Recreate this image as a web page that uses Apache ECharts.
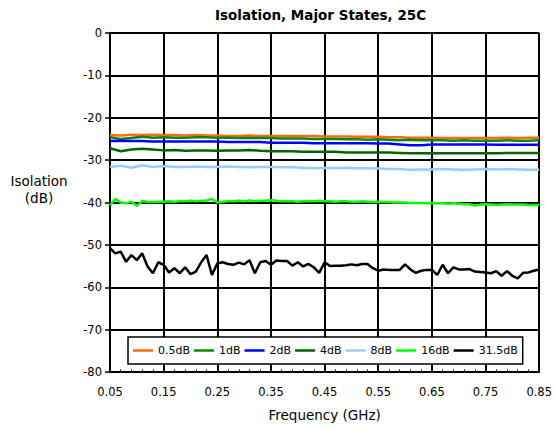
<!DOCTYPE html>
<html><head><meta charset="utf-8">
<script src="https://cdn.jsdelivr.net/npm/echarts@6/dist/echarts.min.js"></script>
<style>html,body{margin:0;padding:0;background:#fff}#c{width:555px;height:433px}</style>
</head><body><div id="c"></div>
<script>
// Frequencies (GHz)
const freqFine = [0.05,0.06,0.07,0.08,0.09,0.10,0.11,0.12,0.13,0.14,0.15,0.16,0.17,0.18,0.19,0.20,0.21,0.22,0.23,0.24,0.25,0.26,0.27,0.28,0.29,0.30,0.31,0.32,0.33,0.34,0.35,0.36,0.37,0.38,0.39,0.40,0.41,0.42,0.43,0.44,0.45,0.46,0.47,0.48,0.49,0.50,0.51,0.52,0.53,0.54,0.55,0.56,0.57,0.58,0.59,0.60,0.61,0.62,0.63,0.64,0.65,0.66,0.67,0.68,0.69,0.70,0.71,0.72,0.73,0.74,0.75,0.76,0.77,0.78,0.79,0.80,0.81,0.82,0.83,0.84,0.85];
const freqCoarse = [0.05,0.07,0.09,0.11,0.13,0.15,0.17,0.19,0.21,0.23,0.25,0.27,0.29,0.31,0.33,0.35,0.37,0.39,0.41,0.43,0.45,0.47,0.49,0.51,0.53,0.55,0.57,0.59,0.61,0.63,0.65,0.67,0.69,0.71,0.73,0.75,0.77,0.79,0.81,0.83,0.85];

// Isolation (dB)
const iso05 = [-24.1,-24.2,-24.0,-24.1,-24.0,-24.1,-24.1,-24.2,-24.1,-24.2,-24.2,-24.3,-24.3,-24.2,-24.3,-24.3,-24.3,-24.3,-24.3,-24.3,-24.4,-24.4,-24.4,-24.5,-24.5,-24.5,-24.6,-24.6,-24.7,-24.7,-24.7,-24.8,-24.8,-24.8,-24.8,-24.8,-24.8,-24.7,-24.8,-24.7,-24.7];
const iso1 = [-24.6,-25.0,-24.8,-24.5,-24.7,-24.6,-24.7,-24.7,-24.6,-24.6,-24.7,-24.7,-24.8,-24.8,-24.8,-24.8,-24.9,-24.9,-24.9,-25.0,-25.0,-25.0,-25.1,-25.1,-25.2,-25.1,-25.2,-25.3,-25.2,-25.3,-25.3,-25.3,-25.4,-25.3,-25.4,-25.4,-25.4,-25.3,-25.4,-25.4,-25.3];
const iso2 = [-25.5,-25.4,-25.5,-25.5,-25.6,-25.6,-25.6,-25.6,-25.6,-25.6,-25.6,-25.7,-25.7,-25.7,-25.7,-25.9,-25.9,-25.9,-25.9,-26.0,-26.0,-26.0,-26.0,-26.0,-26.0,-26.1,-26.1,-26.3,-26.5,-26.5,-26.3,-26.3,-26.3,-26.3,-26.3,-26.3,-26.4,-26.4,-26.4,-26.4,-26.4];
const iso4 = [-27.2,-27.9,-27.5,-27.3,-27.5,-27.7,-27.6,-27.8,-27.7,-27.7,-27.8,-27.7,-27.7,-27.6,-27.8,-27.9,-27.9,-27.9,-28.0,-28.0,-28.0,-28.0,-28.2,-28.2,-28.2,-28.2,-28.2,-28.3,-28.4,-28.4,-28.4,-28.4,-28.4,-28.4,-28.4,-28.4,-28.4,-28.3,-28.3,-28.3,-28.3];
const iso8 = [-31.6,-31.3,-31.8,-31.2,-31.6,-31.4,-31.6,-31.6,-31.5,-31.6,-31.6,-31.5,-31.6,-31.7,-31.6,-31.6,-31.7,-31.7,-31.8,-31.9,-31.8,-31.9,-31.8,-31.9,-31.9,-32.0,-32.1,-32.1,-32.3,-32.2,-32.2,-32.1,-32.2,-32.3,-32.2,-32.1,-32.2,-32.1,-32.2,-32.3,-32.3];
const iso16 = [-40.6,-39.2,-40.0,-40.2,-39.8,-40.8,-39.6,-39.9,-39.9,-39.8,-39.8,-39.7,-39.8,-39.7,-39.7,-39.6,-39.7,-39.6,-39.5,-39.2,-40.0,-39.8,-39.7,-39.7,-39.6,-39.7,-39.5,-39.7,-39.6,-39.6,-39.4,-39.6,-39.7,-39.7,-39.7,-39.8,-39.7,-39.7,-39.7,-39.6,-39.7,-39.7,-39.8,-39.7,-39.7,-39.8,-39.8,-39.7,-39.8,-39.9,-39.8,-39.9,-39.9,-40.0,-40.0,-40.0,-40.1,-40.1,-40.1,-40.2,-40.2,-40.2,-40.2,-40.3,-40.2,-40.3,-40.4,-40.4,-40.7,-40.5,-40.4,-40.5,-40.6,-40.5,-40.4,-40.5,-40.5,-40.5,-40.6,-40.6,-40.6];
const iso315 = [-50.8,-52.0,-51.6,-54.0,-52.4,-53.6,-52.0,-55.1,-56.7,-54.1,-54.7,-56.5,-55.5,-56.7,-55.3,-56.9,-56.3,-54.1,-52.4,-57.1,-54.4,-54.1,-54.5,-54.7,-54.2,-54.6,-53.6,-56.7,-54.1,-53.8,-54.7,-53.7,-53.8,-53.8,-54.9,-54.1,-55.1,-54.5,-55.3,-56.6,-54.1,-55.0,-54.9,-54.9,-54.8,-54.6,-54.8,-54.5,-54.5,-55.5,-56.1,-55.8,-55.9,-55.9,-55.9,-54.6,-55.8,-56.6,-56.1,-55.9,-55.9,-57.1,-54.7,-56.7,-55.3,-55.8,-55.8,-55.7,-56.3,-56.4,-56.5,-56.7,-56.2,-57.3,-56.2,-57.3,-57.9,-56.6,-56.5,-56.1,-55.8];

const seriesNames = ['0.5dB','1dB','2dB','4dB','8dB','16dB','31.5dB'];
const seriesColors = ['#FF6A13','#0A8A0A','#0000FF','#006400','#99CCFF','#00FF00','#000000'];
const xTickLabels = ['0.05','0.15','0.25','0.35','0.45','0.55','0.65','0.75','0.85'];
const yTickLabels = ['-80','-70','-60','-50','-40','-30','-20','-10','0'];

const X0 = 0.05; // axis offset so ticks start from a multiple of the interval
function pairs(fr, vals) { return fr.map((f, i) => [Math.round((f - X0) * 10000) / 10000, vals[i]]); }

const seriesData = [
  pairs(freqCoarse, iso05), pairs(freqCoarse, iso1), pairs(freqCoarse, iso2),
  pairs(freqCoarse, iso4), pairs(freqCoarse, iso8), pairs(freqFine, iso16), pairs(freqFine, iso315)
];

const FONT = 'DejaVu Sans';
const chart = echarts.init(document.getElementById('c'), null, {renderer: 'svg'});
chart.setOption({
  animation: false,
  backgroundColor: '#fff',
  title: {
    text: 'Isolation, Major States, 25C', left: 210, top: 3,
    textStyle: {fontFamily: FONT, fontSize: 13.5, fontWeight: 'bold', color: '#000'}
  },
  grid: {left: 110, right: 15, top: 33, bottom: 61},
  legend: {
    left: 128, top: 337, itemWidth: 20, itemHeight: 2.5, itemGap: 4, icon: 'rect',
    padding: [6.5, 5, 6.5, 5],
    borderColor: '#000', borderWidth: 1.5, backgroundColor: '#fff',
    textStyle: {fontFamily: FONT, fontSize: 11, color: '#000', lineHeight: 14},
    data: seriesNames
  },
  graphic: [{
    type: 'text', x: 39, y: 189, z: 10,
    style: {text: 'Isolation\n(dB)', fontFamily: FONT, fontSize: 13.5, fill: '#000', align: 'center', verticalAlign: 'middle', lineHeight: 17}
  }],
  xAxis: [{
    type: 'value', min: 0, max: 0.8, interval: 0.1,
    name: 'Frequency (GHz)', nameLocation: 'middle', nameGap: 36,
    nameTextStyle: {fontFamily: FONT, fontSize: 13.5, color: '#000'},
    axisLine: {show: true, onZero: false, lineStyle: {color: '#000', width: 2}},
    axisTick: {show: true, inside: true, length: 5, lineStyle: {color: '#000', width: 1.5}},
    minorTick: {show: true, splitNumber: 5, length: 2.5, lineStyle: {color: '#000', width: 1}},
    axisLabel: {margin: 14, fontFamily: FONT, fontSize: 11.5, color: '#000',
      formatter: v => xTickLabels[Math.round(v / 0.1)]},
    splitLine: {show: true, lineStyle: {color: '#000', width: 2}}
  }, {
    type: 'value', min: 0, max: 0.8, interval: 0.1, position: 'bottom',
    axisLine: {show: false}, axisLabel: {show: false}, splitLine: {show: false},
    axisTick: {show: true, inside: false, length: 5, lineStyle: {color: '#000', width: 1.5}}
  }],
  yAxis: {
    type: 'value', min: -80, max: 0, interval: 10,
    axisLine: {show: true, onZero: false, lineStyle: {color: '#000', width: 2}},
    axisTick: {show: true, inside: false, length: 5, lineStyle: {color: '#000', width: 1.5}},
    axisLabel: {margin: 8, fontFamily: FONT, fontSize: 11.5, color: '#000',
      formatter: v => yTickLabels[Math.round((v + 80) / 10)]},
    splitLine: {show: true, lineStyle: {color: '#000', width: 2}}
  },
  series: seriesNames.map((n, i) => ({
    name: n, type: 'line', xAxisIndex: 0, symbol: 'none', data: seriesData[i],
    lineStyle: {color: seriesColors[i], width: 2.5}, itemStyle: {color: seriesColors[i]}
  }))
});
</script></body></html>
